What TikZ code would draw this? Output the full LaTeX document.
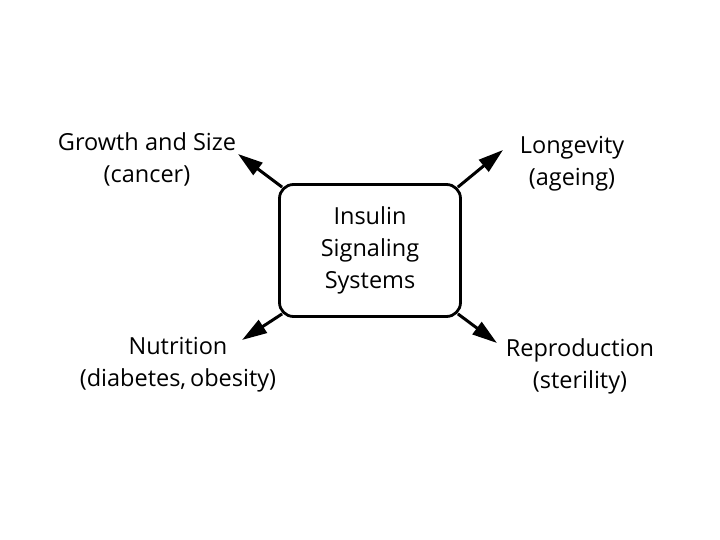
\documentclass[tikz,border=0pt]{standalone}
\usepackage{fontspec}
\setmainfont{Open Sans}
\usetikzlibrary{positioning, arrows.meta, calc}
\tikzset{
  hub/.style   = {draw, rectangle, rounded corners=14pt, line width=2.8pt,
                  minimum width=181pt, minimum height=132pt, align=center,
                  font=\fontsize{23.5}{32}\selectfont},
  lbl/.style   = {align=center, inner sep=0pt, font=\fontsize{23.5}{32}\selectfont},
  ar/.style    = {-{Triangle[length=25pt, width=15pt]}, line width=3pt},
}

\begin{document}
\begin{tikzpicture}[x=1pt, y=-1pt]
  \useasboundingbox (0,0) rectangle (720,540);
  % ---- centre ----
  \node[hub] (isys) at (370,250.5) {Insulin\\Signaling\\Systems};

  % ---- outcomes ----
  \node[lbl] (growth) at (147,159) {Growth and Size\\(cancer)};
  \node[lbl] (longev) at (572,164) {Longevity\\(ageing)};
  \node[lbl] (nutri)  at (178,365) {Nutrition\\(diabetes,\,obesity)};
  \node[lbl] (repro)  at (580,366) {Reproduction\\(sterility)};

  % ---- arrow tips ----
  \coordinate (tgrowth) at (238,154);
  \coordinate (tlongev) at (503,150);
  \coordinate (tnutri)  at (242,340);
  \coordinate (trepro)  at (497,343);

  \draw[ar] ($(isys.north west)+(4,4)$) -- (tgrowth);
  \draw[ar] ($(isys.north east)+(-4,4)$) -- (tlongev);
  \draw[ar] ($(isys.south west)+(4,-4)$) -- (tnutri);
  \draw[ar] ($(isys.south east)+(-4,-4)$) -- (trepro);
\end{tikzpicture}
\end{document}
